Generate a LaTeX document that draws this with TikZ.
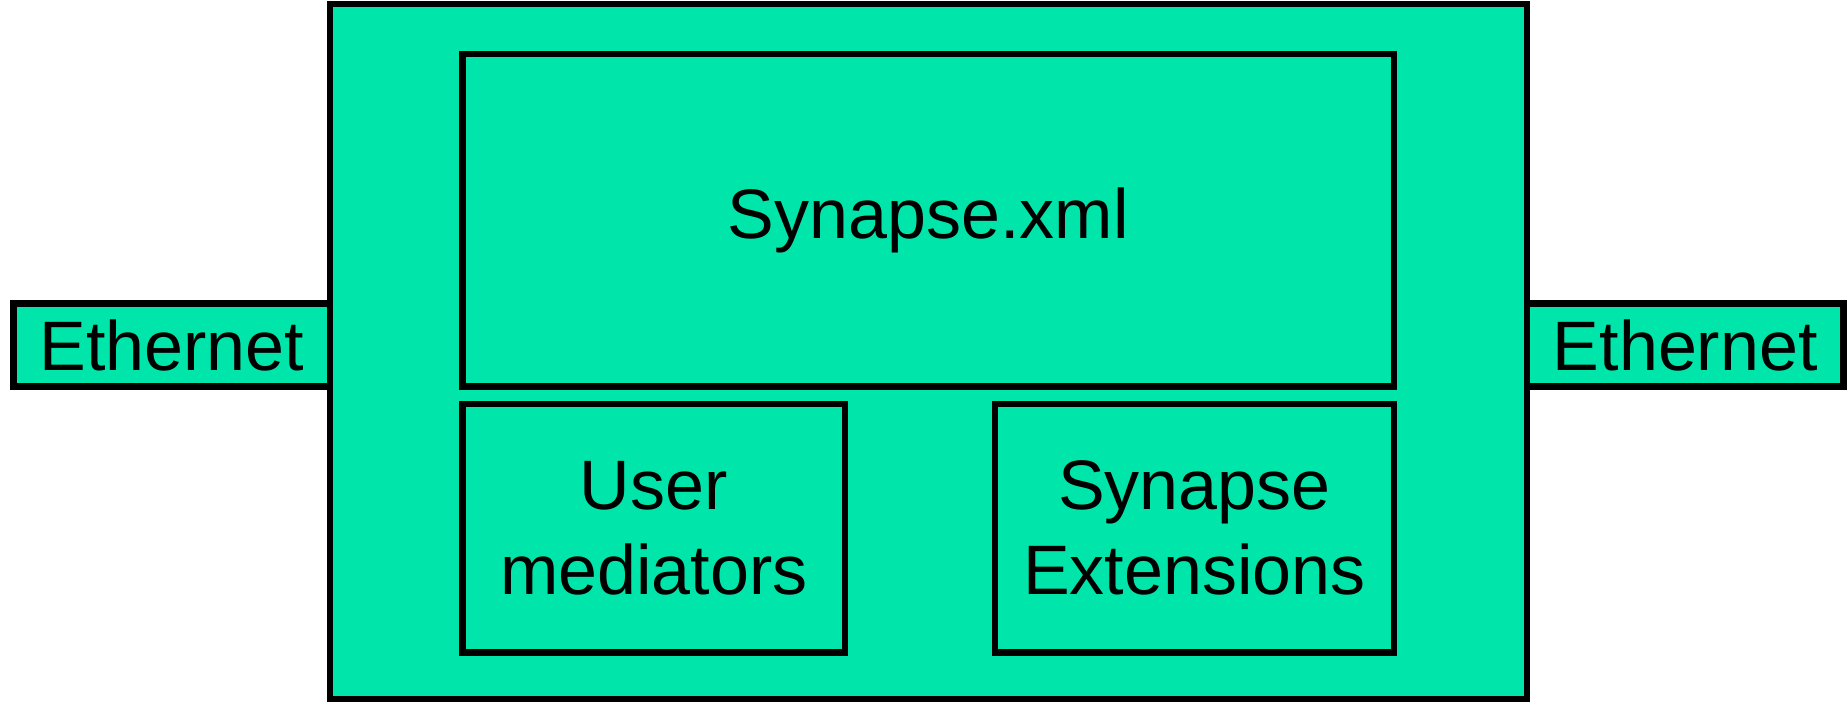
\documentclass[tikz,border=0pt]{standalone}
\usepackage{fontspec}
\setmainfont{Liberation Sans}
\definecolor{boxgreen}{RGB}{0,230,170}
\begin{document}
\begin{tikzpicture}[x=0.4pt,y=-0.4pt,
  box/.style={draw=black, fill=boxgreen, line width=2.6pt, inner sep=0pt,
    align=center, font=\fontsize{28pt}{34pt}\selectfont, text=black}]
\useasboundingbox (0,0) rectangle (1847,702);
\node[box, minimum width=126.6pt, minimum height=33.2pt] (ethl) at (171.75,345) {Ethernet};
\node[box, minimum width=126.6pt, minimum height=33.2pt] (ethr) at (1685.25,345) {Ethernet};
\node[box, minimum width=478.8pt, minimum height=278pt] (main) at (928.5,351.5) {};
\node[box, minimum width=372.6pt, minimum height=133pt] (xml) at (928.25,220.25) {Synapse.xml};
\node[box, minimum width=153pt, minimum height=99.4pt] (user) at (653.75,528.25) {User\\mediators};
\node[box, minimum width=159.6pt, minimum height=99.4pt] (ext) at (1194.5,528.25) {Synapse\\Extensions};
\end{tikzpicture}
\end{document}
